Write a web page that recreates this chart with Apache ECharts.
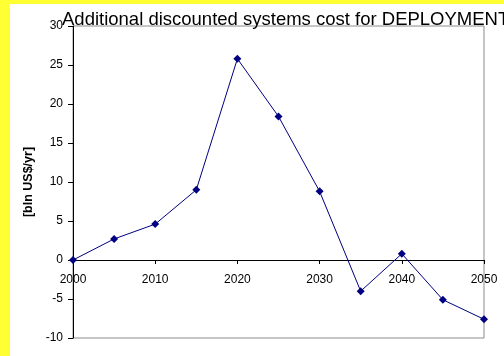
<!DOCTYPE html>
<html>
<head>
<meta charset="utf-8">
<script src="https://cdn.jsdelivr.net/npm/echarts@6/dist/echarts.min.js"></script>
<style>
html,body{margin:0;padding:0;width:504px;height:356px;overflow:hidden;background:#ffff33;}
#chart{position:absolute;left:10px;top:4px;width:494px;height:352px;background:#ffffff;}
</style>
</head>
<body>
<div id="chart"></div>
<script>
var titleText = 'Additional discounted systems cost for DEPLOYMENT';
var yAxisName = '[bln US$/yr]';
var years = [2000, 2005, 2010, 2015, 2020, 2025, 2030, 2035, 2040, 2045, 2050];
var costs = [0, 2.7, 4.6, 9.0, 25.8, 18.4, 8.8, -4.0, 0.8, -5.1, -7.6];
var xTicks = [2000, 2010, 2020, 2030, 2040, 2050];
var yTicks = [-10, -5, 0, 5, 10, 15, 20, 25, 30];

var chart = echarts.init(document.getElementById('chart'), null, {renderer: 'canvas'});
var points = years.map(function (y, i) { return [y, costs[i]]; });
var font = 'Arial, "Liberation Sans", sans-serif';

var gridTop = 22, gridBottom = 18, chartH = 352;
var plotH = chartH - gridTop - gridBottom;
var yMin = yTicks[0], yMax = yTicks[yTicks.length - 1];
var zeroOffset = -((0 - yMin) / (yMax - yMin)) * plotH;

chart.setOption({
  animation: false,
  backgroundColor: '#ffffff',
  title: {
    text: titleText,
    left: 47,
    top: 1,
    textStyle: {fontFamily: font, fontSize: 18.5, fontWeight: 'normal', color: '#000'}
  },
  grid: {left: 63, right: 20, top: gridTop, bottom: gridBottom, show: true, borderColor: '#8c8c8c', borderWidth: 1, backgroundColor: 'transparent'},
  xAxis: {
    type: 'value',
    min: xTicks[0],
    max: xTicks[xTicks.length - 1],
    interval: 10,
    offset: zeroOffset,
    axisLine: {onZero: false, lineStyle: {color: '#000', width: 1}},
    axisTick: {show: true, inside: false, length: 4, lineStyle: {color: '#000'}},
    splitLine: {show: false},
    axisLabel: {margin: 14, fontFamily: font, fontSize: 12, color: '#000', formatter: function (v) { return String(v); }}
  },
  yAxis: {
    type: 'value',
    min: yMin,
    max: yMax,
    interval: 5,
    name: yAxisName,
    nameLocation: 'middle',
    nameGap: 31,
    nameRotate: 90,
    nameTextStyle: {fontFamily: font, fontSize: 12.5, fontWeight: 'bold', color: '#000'},
    axisLine: {show: true, lineStyle: {color: '#000', width: 1}},
    axisTick: {show: true, inside: false, length: 5, lineStyle: {color: '#000'}},
    splitLine: {show: false},
    axisLabel: {margin: 10, fontFamily: font, fontSize: 12, color: '#000'}
  },
  series: [{
    type: 'line',
    data: points,
    symbol: 'diamond',
    symbolSize: 8,
    lineStyle: {color: '#000080', width: 1},
    itemStyle: {color: '#000080'},
    z: 5
  }]
});
</script>
</body>
</html>
